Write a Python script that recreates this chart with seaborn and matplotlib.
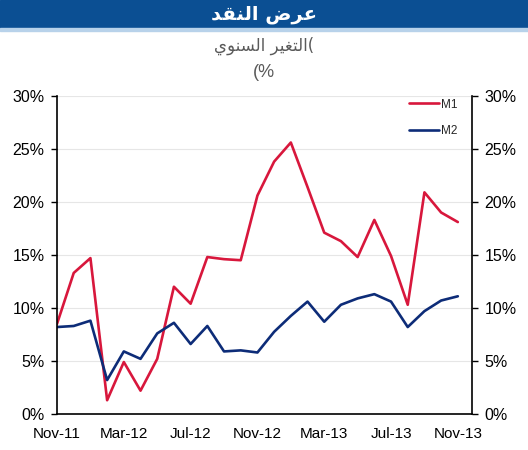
import matplotlib
matplotlib.use("Agg")
import matplotlib.pyplot as plt
import numpy as np
import pandas as pd
import seaborn as sns

# Monthly labels Nov-11 .. Nov-13
MONTHS = ["Nov-11", "Dec-11", "Jan-12", "Feb-12", "Mar-12", "Apr-12", "May-12",
          "Jun-12", "Jul-12", "Aug-12", "Sep-12", "Oct-12", "Nov-12", "Dec-12",
          "Jan-13", "Feb-13", "Mar-13", "Apr-13", "May-13", "Jun-13", "Jul-13",
          "Aug-13", "Sep-13", "Oct-13", "Nov-13"]

# Annual change (%)
M1 = [8.5, 13.3, 14.7, 1.3, 4.9, 2.2, 5.2, 12.0, 10.4, 14.8, 14.6, 14.5, 20.6,
      23.8, 25.6, 21.4, 17.1, 16.3, 14.8, 18.3, 14.9, 10.3, 20.9, 19.0, 18.1]
M2 = [8.2, 8.3, 8.8, 3.2, 5.9, 5.2, 7.6, 8.6, 6.6, 8.3, 5.9, 6.0, 5.8,
      7.75, 9.25, 10.6, 8.7, 10.3, 10.9, 11.3, 10.6, 8.2, 9.7, 10.7, 11.1]

SERIES = ["M1", "M2"]
COLORS = {"M1": "#D8173C", "M2": "#0D2C78"}
Y_TICKS = [0, 5, 10, 15, 20, 25, 30]

# Arabic text, pre-shaped (presentation forms) and in visual order,
# since matplotlib does no bidi/shaping on its own
TITLE = "\uFEAA\uFED8\uFEE8\uFEDF\uFE8D \uFEBD\uFEAE\uFECB"
SUB1 = "\uFEF1\uFEEE\uFEE8\uFEB4\uFEDF\uFE8D \uFEAE\uFEF4\uFED0\uFE98\uFEDF\uFE8D("
SUB2 = "(%"

df = pd.DataFrame({
    "idx": list(range(len(MONTHS))) * 2,
    "value": M1 + M2,
    "series": ["M1"] * len(M1) + ["M2"] * len(M2),
})

sns.set_style("white")
plt.rcParams["font.family"] = ["Liberation Sans", "DejaVu Sans"]

fig = plt.figure(figsize=(5.28, 4.5), dpi=100)
ax = fig.add_axes([0.108, 0.08, 0.786, 0.707])

sns.lineplot(data=df, x="idx", y="value", hue="series", hue_order=SERIES,
             palette=COLORS, linewidth=1.9, ax=ax)

ax.set_xlim(0, len(MONTHS) - 0.15)
ax.set_ylim(0, 30)
ax.set_xticks(range(len(MONTHS)))
ax.set_xticklabels([m if i % 4 == 0 else "" for i, m in enumerate(MONTHS)])
ax.set_yticks(Y_TICKS)
ax.set_yticklabels([f"{v}%" for v in Y_TICKS])
ax.set_xlabel("")
ax.set_ylabel("")

ax.grid(axis="y", color="#e6e6e6", linewidth=0.8)
ax.set_axisbelow(True)
for side in ["left", "right", "bottom"]:
    ax.spines[side].set_visible(True)
    ax.spines[side].set_color("black")
    ax.spines[side].set_linewidth(1.2)
ax.spines["top"].set_visible(False)

ax.tick_params(axis="x", direction="out", length=4, width=1, colors="black",
               labelsize=11, pad=5)
ax.tick_params(axis="y", direction="out", length=4, width=1, colors="black",
               labelsize=11.5, left=True, right=True, labelleft=True,
               labelright=True, pad=5)

leg = ax.legend(loc="upper right", bbox_to_anchor=(0.99, 1.025), frameon=False,
                fontsize=8.5, handlelength=2.5, handletextpad=0.15,
                labelspacing=1.2)
for line in leg.get_lines():
    line.set_linewidth(1.9)

# title bar
fig.patches.append(plt.Rectangle((0, 0.937), 1, 0.063, transform=fig.transFigure,
                                 color="#0B4F93", zorder=0))
fig.patches.append(plt.Rectangle((0, 0.932), 1, 0.005, transform=fig.transFigure,
                                 color="#b8d2ea", zorder=0))
fig.text(0.5, 0.968, TITLE, ha="center", va="center", color="white",
         fontsize=14, fontweight="bold", family=["DejaVu Sans"])
fig.text(0.5, 0.898, SUB1, ha="center", va="center", color="#5a5a5a",
         fontsize=12, family=["DejaVu Sans"])
fig.text(0.5, 0.838, SUB2, ha="center", va="center", color="#5a5a5a",
         fontsize=13)

fig.savefig("out.png", dpi=100)
